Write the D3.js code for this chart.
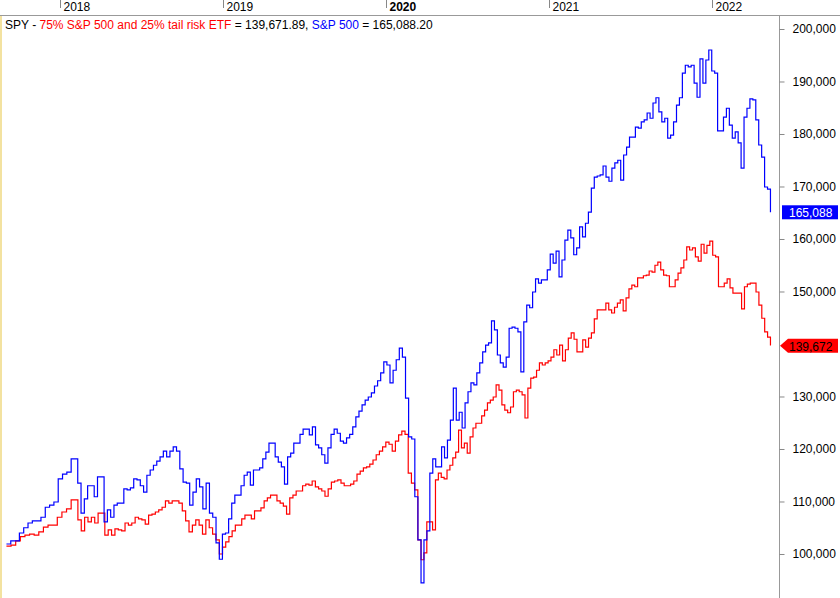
<!DOCTYPE html>
<html><head><meta charset="utf-8">
<script src="https://cdn.jsdelivr.net/npm/d3@7"></script>
<style>body{margin:0;background:#fff}svg{display:block;font-family:"Liberation Sans",Arial,sans-serif}</style>
</head><body>
<script>
const startDate = "2017-09-03", peak2018Date = "2018-01-26", low2018Date = "2018-12-24", crashDate = "2020-03-20", endDate = "2022-05-12";
const yearTicks = ["2018","2019","2020","2021","2022"];
const yTicks = [100000,110000,120000,130000,150000,160000,170000,180000,190000,200000];
const seriesNames = ["75% S&P 500 and 25% tail risk ETF","S&P 500"];
const lastValues = [139671.89,165088.20];
// values in thousands, weekly
const spx = [101.9,102.5,102.5,104.0,105.0,105.9,106.3,106.3,107.0,108.9,109.3,109.9,114.3,115.2,115.6,118.1,118.1,113.5,107.8,110.5,113.0,113.0,110.9,114.7,114.7,106.1,108.4,107.0,109.3,109.7,109.7,112.4,112.2,112.6,114.3,114.1,113.0,111.8,115.0,116.0,116.9,117.7,118.5,119.6,118.5,119.6,120.4,119.6,116.2,113.7,113.5,109.3,111.8,114.3,112.8,108.6,113.5,107.8,107.0,102.1,99.0,103.8,104.0,106.7,109.7,111.2,111.2,113.0,115.0,115.6,113.1,116.0,116.0,116.4,118.1,119.4,121.1,121.1,118.5,117.5,116.6,113.3,118.5,119.2,121.1,121.1,122.8,123.8,123.8,122.7,124.2,120.8,120.2,118.9,117.3,120.2,122.8,123.8,123.0,121.5,121.1,122.1,122.8,124.2,126.1,127.2,128.4,129.3,129.9,130.7,132.0,133.0,134.5,136.6,136.0,132.6,135.0,137.0,139.2,137.5,129.7,122.3,121.9,110.9,102.7,94.5,102.7,104.4,115.4,118.1,116.6,116.6,120.4,118.3,121.7,125.5,131.6,125.5,127.0,124.0,128.8,130.9,132.6,132.2,134.5,136.4,138.5,139.8,140.2,144.4,142.7,137.9,136.4,135.6,137.5,143.0,143.2,143.0,142.3,134.7,144.2,147.4,146.9,149.9,152.4,151.6,152.2,152.2,154.1,157.1,155.4,157.7,152.8,156.0,159.8,161.7,160.2,157.0,158.3,162.3,160.4,163.0,165.1,169.7,171.8,172.0,172.2,173.9,171.8,171.0,173.5,174.5,175.0,171.2,176.0,177.5,179.4,179.4,181.3,181.1,182.3,182.7,184.0,183.0,185.9,186.9,184.2,182.3,183.0,179.2,179.8,182.3,185.5,186.9,191.6,193.1,192.8,193.1,189.7,187.0,194.3,189.7,194.1,196.0,192.0,191.6,180.6,180.6,183.2,184.9,181.7,179.2,180.4,178.3,173.5,183.2,184.9,186.7,186.5,182.7,177.9,175.6,169.9,169.5,165.1];
const mix = [101.5,101.7,102.5,103.3,103.6,103.8,103.6,104.2,105.1,105.5,105.5,107.0,108.0,108.6,110.3,110.3,106.5,104.4,107.0,106.1,107.0,105.9,107.8,107.8,103.6,104.6,103.6,104.8,104.6,104.4,105.9,105.5,105.9,107.0,106.7,106.5,105.7,107.4,107.6,108.0,108.4,108.9,110.1,109.7,110.1,110.1,109.7,108.2,106.3,104.2,105.5,106.5,105.5,103.8,106.5,105.0,103.8,102.7,100.0,101.3,102.3,103.3,104.4,105.5,105.5,106.7,107.4,107.4,106.7,108.2,108.2,108.8,110.1,110.7,111.2,111.2,110.1,109.7,109.1,107.6,110.7,111.2,112.0,112.0,113.0,113.3,113.1,113.9,112.8,112.4,112.0,111.0,112.4,113.7,113.9,114.1,113.5,113.0,113.0,113.3,113.9,115.2,115.8,116.4,116.6,117.1,117.9,118.9,119.6,120.4,121.3,120.9,119.6,121.5,122.7,123.4,122.8,115.4,113.5,112.2,102.7,98.9,100.2,106.1,106.1,104.6,114.1,115.4,114.6,114.3,116.0,116.9,118.3,119.4,123.6,120.2,121.1,119.2,122.3,124.0,124.9,124.9,126.3,127.4,128.8,129.3,129.9,132.2,131.2,128.4,127.4,126.9,128.0,130.9,131.2,130.9,130.3,125.9,131.6,133.5,133.7,135.0,136.4,136.0,136.4,136.8,137.5,138.9,137.9,139.8,136.8,138.9,141.1,142.1,140.9,138.5,138.5,140.8,139.4,141.1,142.1,144.8,146.5,146.5,146.5,147.8,146.5,145.9,147.0,147.8,148.4,146.3,148.8,150.5,151.2,150.9,152.6,152.6,153.0,153.1,153.9,153.7,155.0,155.6,154.1,153.1,153.0,150.9,150.9,152.2,153.5,154.5,156.0,158.5,157.9,158.3,156.6,155.8,159.0,157.3,158.8,159.6,156.9,156.6,150.9,150.9,151.6,152.4,150.7,149.7,149.7,149.7,146.7,150.9,151.4,151.6,151.6,149.9,147.4,144.9,142.3,141.3,139.7];

const W=840,H=598;
const svg=d3.select("body").append("svg").attr("width",W).attr("height",H);
svg.append("rect").attr("width",W).attr("height",H).attr("fill","#fff");
svg.append("rect").attr("x",0).attr("y",15).attr("width",2).attr("height",H-15).attr("fill","#f3e2a0");
const x=d3.scaleTime().domain([new Date(2018,0,1),new Date(2022,0,1)]).range([60,712]);
const y=d3.scaleLinear().domain([205524,91617]).range([0,598]);
const anchors=[startDate,peak2018Date,low2018Date,crashDate,endDate].map(s=>+new Date(s));
function pts(arr){
  const n=arr.length;
  const ip=d3.maxIndex(arr.slice(0,30)), il=d3.minIndex(arr.slice(0,80)), im=d3.minIndex(arr);
  const idx=d3.scaleLinear().domain([0,ip,il,im,n-1]).range(anchors);
  return arr.map((v,i)=>[new Date(idx(i)),v*1000]);
}
const line=d3.line().x(d=>x(d[0])).y(d=>y(d[1])).curve(d3.curveStepAfter);
svg.append("path").datum(pts(mix)).attr("d",line).attr("fill","none").attr("stroke","#ff0000").attr("stroke-width",1.2);
svg.append("path").datum(pts(spx)).attr("d",line).attr("fill","none").attr("stroke","#0000ff").attr("stroke-width",1.2);

svg.append("line").attr("x1",0).attr("x2",W).attr("y1",15.5).attr("y2",15.5).attr("stroke","#999");
yearTicks.forEach(yr=>{
  const px=Math.round(x(new Date(+yr,0,1)))+0.5;
  svg.append("line").attr("x1",px).attr("x2",px).attr("y1",0).attr("y2",8).attr("stroke","#888");
  svg.append("text").attr("x",px+3).attr("y",11).attr("font-size",12).attr("font-weight",yr==="2020"?"bold":"normal").attr("fill","#000").text(yr);
});
const ax=779.5;
svg.append("line").attr("x1",ax).attr("x2",ax).attr("y1",15).attr("y2",H).attr("stroke","#999");
const ya=d3.axisRight(y).tickValues(yTicks).tickSize(5).tickPadding(8).tickFormat(d3.format(",.0f"));
const g=svg.append("g").attr("transform",`translate(${ax},0)`).call(ya);
g.select(".domain").remove();
g.selectAll(".tick line").attr("stroke","#888");
g.selectAll("text").attr("font-size",12).attr("fill","#000").attr("font-family","Liberation Sans, Arial, sans-serif");
const by=y(lastValues[1]);
svg.append("rect").attr("x",782).attr("y",by-7).attr("width",56).attr("height",14).attr("fill","#0000ff");
svg.append("text").attr("x",789).attr("y",by+5).attr("font-size",12).attr("fill","#fff").text(d3.format(",.0f")(lastValues[1]));
const ry=y(lastValues[0]);
svg.append("path").attr("d",`M780,${ry} L788,${ry-7} L838,${ry-7} L838,${ry+7} L788,${ry+7} Z`).attr("fill","#ff0000");
svg.append("text").attr("x",789).attr("y",ry+5).attr("font-size",12).attr("fill","#000").text(d3.format(",.0f")(lastValues[0]));
const lt=svg.append("text").attr("x",5).attr("y",29).attr("font-size",12);
lt.append("tspan").attr("fill","#000").text("SPY - ");
lt.append("tspan").attr("fill","#ff0000").text(seriesNames[0]);
lt.append("tspan").attr("fill","#000").text(" = "+d3.format(",.2f")(lastValues[0])+", ");
lt.append("tspan").attr("fill","#0000ff").text(seriesNames[1]);
lt.append("tspan").attr("fill","#000").text(" = "+d3.format(",.2f")(lastValues[1]));
</script>
</body></html>
